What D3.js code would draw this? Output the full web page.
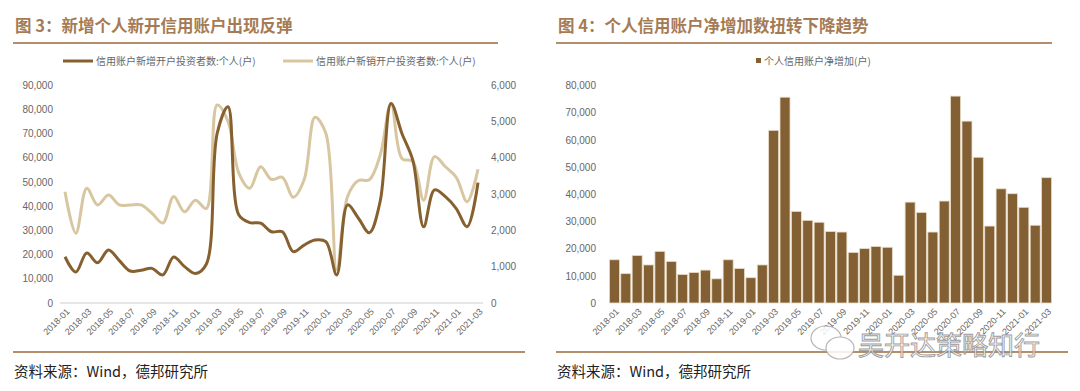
<!DOCTYPE html>
<html>
<head>
<meta charset="utf-8">
<script src="https://cdn.jsdelivr.net/npm/d3@7"></script>
<style>
  body { margin: 0; background: #fff; }
  svg { display: block; font-family: "Liberation Sans", Arial, sans-serif; }
  .cjk { font-family: "Noto Sans CJK SC", sans-serif; }
</style>
</head>
<body>
<svg id="chart" width="1080" height="391"></svg>
<script>
// months 2018-01 .. 2021-03
var months = [];
for (var yy = 2018; yy <= 2021; yy++) {
    for (var mm = 1; mm <= 12; mm++) {
        if (yy === 2021 && mm > 3) break;
        months.push(yy + "-" + (mm < 10 ? "0" + mm : mm));
    }
}
var tickMonths = months.filter(function(d, i){ return i % 2 === 0; });

// 信用账户新增开户投资者数:个人(户), left axis
var newAccounts = [19100, 12800, 20600, 16600, 21900, 17500, 13200, 13500, 14300, 11600,
                   19000, 15000, 12200, 16000, 70000, 81000, 36300, 33200, 33000, 29400,
                   29400, 21200, 23900, 26000, 25300, 11600, 40500, 35000, 29000, 42000,
                   82400, 70000, 59000, 31500, 46700, 43900, 39000, 31500, 49700];
// 信用账户新销开户投资者数:个人(户), right axis
var closedAccounts = [3060, 1920, 3160, 2700, 2970, 2700, 2700, 2700, 2470, 2200,
                      2930, 2510, 2830, 2600, 5450, 5000, 3570, 3160, 3750, 3400,
                      3460, 2910, 3390, 5110, 4670, 910, 2930, 3370, 3390, 4070,
                      5500, 3980, 3890, 2830, 4030, 3750, 3460, 2790, 3680];
// 个人信用账户净增加(户)
var netIncrease = [15900, 10800, 17500, 14000, 19000, 15300, 10500, 11200, 12100, 8900,
                   15900, 12700, 9300, 14000, 63500, 75700, 33700, 30400, 29700, 26300,
                   26100, 18600, 20000, 20800, 20500, 10200, 37100, 33300, 26100, 37500,
                   76100, 66900, 53600, 28300, 42000, 40200, 35200, 28600, 46100];

var leftTicks = d3.range(0, 90001, 10000);
var rightTicks = d3.range(0, 6001, 1000);
var barTicks = d3.range(0, 80001, 10000);

var titleColor = "#a57b55";
var darkLine = "#86602f";
var lightLine = "#d8c6a0";
var barColor = "#836033";
var labelColor = "#666";

var svg = d3.select("#chart");
var fmt = d3.format(",");

// ---------- headers / footers ----------
function frame(x0, x1, x1b, title) {
    svg.append("text").attr("class", "cjk")
        .attr("x", x0 + 2).attr("y", 32)
        .attr("font-size", 16.5).attr("font-weight", "bold")
        .attr("fill", titleColor)
        .text(title);
    svg.append("line")
        .attr("x1", x0).attr("x2", x1).attr("y1", 43).attr("y2", 43)
        .attr("stroke", "#b48e6b").attr("stroke-width", 2);
    svg.append("line")
        .attr("x1", x0).attr("x2", x1b).attr("y1", 352).attr("y2", 352)
        .attr("stroke", "#b48e6b").attr("stroke-width", 2);
    svg.append("text").attr("class", "cjk")
        .attr("x", x0 + 1).attr("y", 377)
        .attr("font-size", 14.5).attr("fill", "#222")
        .text("资料来源：Wind，德邦研究所");
}
frame(13, 498, 525, "图 3：新增个人新开信用账户出现反弹");
frame(556, 1052, 1068, "图 4：个人信用账户净增加数扭转下降趋势");

// ---------- left chart: two smoothed lines ----------
var x = d3.scalePoint().domain(months).range([65, 478]);
var yL = d3.scaleLinear().domain([0, 90000]).range([303, 85]);
var yR = d3.scaleLinear().domain([0, 6000]).range([303, 85]);

var gL = svg.append("g");

gL.append("line")
    .attr("x1", 60).attr("x2", 483).attr("y1", yL(0)).attr("y2", yL(0))
    .attr("stroke", "#e6e6e6").attr("stroke-width", 2);

var axL = gL.append("g").attr("transform", "translate(60,0)")
    .call(d3.axisLeft(yL).tickValues(leftTicks).tickSize(0).tickPadding(7).tickFormat(fmt));
axL.select(".domain").remove();
axL.selectAll("text").attr("font-size", 10).attr("fill", labelColor)
    .attr("font-family", "Liberation Sans, Arial, sans-serif");

var axR = gL.append("g").attr("transform", "translate(483,0)")
    .call(d3.axisRight(yR).tickValues(rightTicks).tickSize(0).tickPadding(8).tickFormat(fmt));
axR.select(".domain").remove();
axR.selectAll("text").attr("font-size", 10).attr("fill", labelColor)
    .attr("font-family", "Liberation Sans, Arial, sans-serif");

gL.selectAll(".xl").data(tickMonths).enter().append("text")
    .attr("class", "xl")
    .attr("transform", function(d){ return "translate(" + (x(d) + 3) + ",310) rotate(-45)"; })
    .attr("text-anchor", "end")
    .attr("dy", "0.35em")
    .attr("font-size", 9).attr("fill", labelColor)
    .text(function(d){ return d; });

// smoothed lines
var lineClosed = d3.line()
    .x(function(d, i){ return x(months[i]); })
    .y(function(d){ return yR(d); })
    .curve(d3.curveCatmullRom.alpha(0.5));
var lineNew = d3.line()
    .x(function(d, i){ return x(months[i]); })
    .y(function(d){ return yL(d); })
    .curve(d3.curveCatmullRom.alpha(0.5));

gL.append("path").datum(closedAccounts)
    .attr("d", lineClosed)
    .attr("fill", "none").attr("stroke", lightLine).attr("stroke-width", 3);
gL.append("path").datum(newAccounts)
    .attr("d", lineNew)
    .attr("fill", "none").attr("stroke", darkLine).attr("stroke-width", 3);

// legend
var legendL = [
    { name: "信用账户新增开户投资者数:个人(户)", color: darkLine, x: 63 },
    { name: "信用账户新销开户投资者数:个人(户)", color: lightLine, x: 283 }
];
legendL.forEach(function(d){
    gL.append("line")
        .attr("x1", d.x).attr("x2", d.x + 30).attr("y1", 61).attr("y2", 61)
        .attr("stroke", d.color).attr("stroke-width", 3);
    gL.append("text").attr("class", "cjk")
        .attr("x", d.x + 33).attr("y", 64.5)
        .attr("font-size", 10).attr("fill", labelColor)
        .text(d.name);
});

// ---------- right chart: bars ----------
var xb = d3.scaleBand().domain(months).range([606, 1055])
    .paddingInner(0.12).paddingOuter(0.3);
var yb = d3.scaleLinear().domain([0, 80000]).range([303, 85.5]);

var gR = svg.append("g");

var axB = gR.append("g").attr("transform", "translate(603,0)")
    .call(d3.axisLeft(yb).tickValues(barTicks).tickSize(0).tickPadding(7).tickFormat(fmt));
axB.select(".domain").remove();
axB.selectAll("text").attr("font-size", 10).attr("fill", labelColor)
    .attr("font-family", "Liberation Sans, Arial, sans-serif");

gR.selectAll(".bar").data(netIncrease).enter().append("rect")
    .attr("class", "bar")
    .attr("x", function(d, i){ return xb(months[i]); })
    .attr("width", xb.bandwidth())
    .attr("y", function(d){ return yb(d); })
    .attr("height", function(d){ return yb(0) - yb(d); })
    .attr("fill", barColor)
    .attr("stroke", "#e8dcc8").attr("stroke-width", 0.8);

gR.selectAll(".xb").data(tickMonths).enter().append("text")
    .attr("class", "xb")
    .attr("transform", function(d){ return "translate(" + (xb(d) + xb.bandwidth() / 2 + 3) + ",310) rotate(-45)"; })
    .attr("text-anchor", "end")
    .attr("dy", "0.35em")
    .attr("font-size", 9).attr("fill", labelColor)
    .text(function(d){ return d; });

gR.append("rect")
    .attr("x", 756).attr("y", 58).attr("width", 5).attr("height", 5)
    .attr("fill", barColor);
gR.append("text").attr("class", "cjk")
    .attr("x", 764).attr("y", 64.5)
    .attr("font-size", 10).attr("fill", labelColor)
    .text("个人信用账户净增加(户)");

// ---------- watermark ----------
var wm = svg.append("g").attr("opacity", 0.85);
wm.append("ellipse").attr("cx", 826).attr("cy", 338).attr("rx", 15).attr("ry", 12)
    .attr("fill", "#fff").attr("stroke", "#aaa").attr("stroke-width", 1.2);
wm.append("ellipse").attr("cx", 840).attr("cy", 348).attr("rx", 14).attr("ry", 11)
    .attr("fill", "#fff").attr("stroke", "#aaa").attr("stroke-width", 1.2);
wm.append("text").attr("class", "cjk")
    .attr("x", 858).attr("y", 355)
    .attr("font-size", 26)
    .attr("fill", "#fff").attr("stroke", "#8a8a8a").attr("stroke-width", 0.9)
    .text("吴开达策略知行");
</script>
</body>
</html>
